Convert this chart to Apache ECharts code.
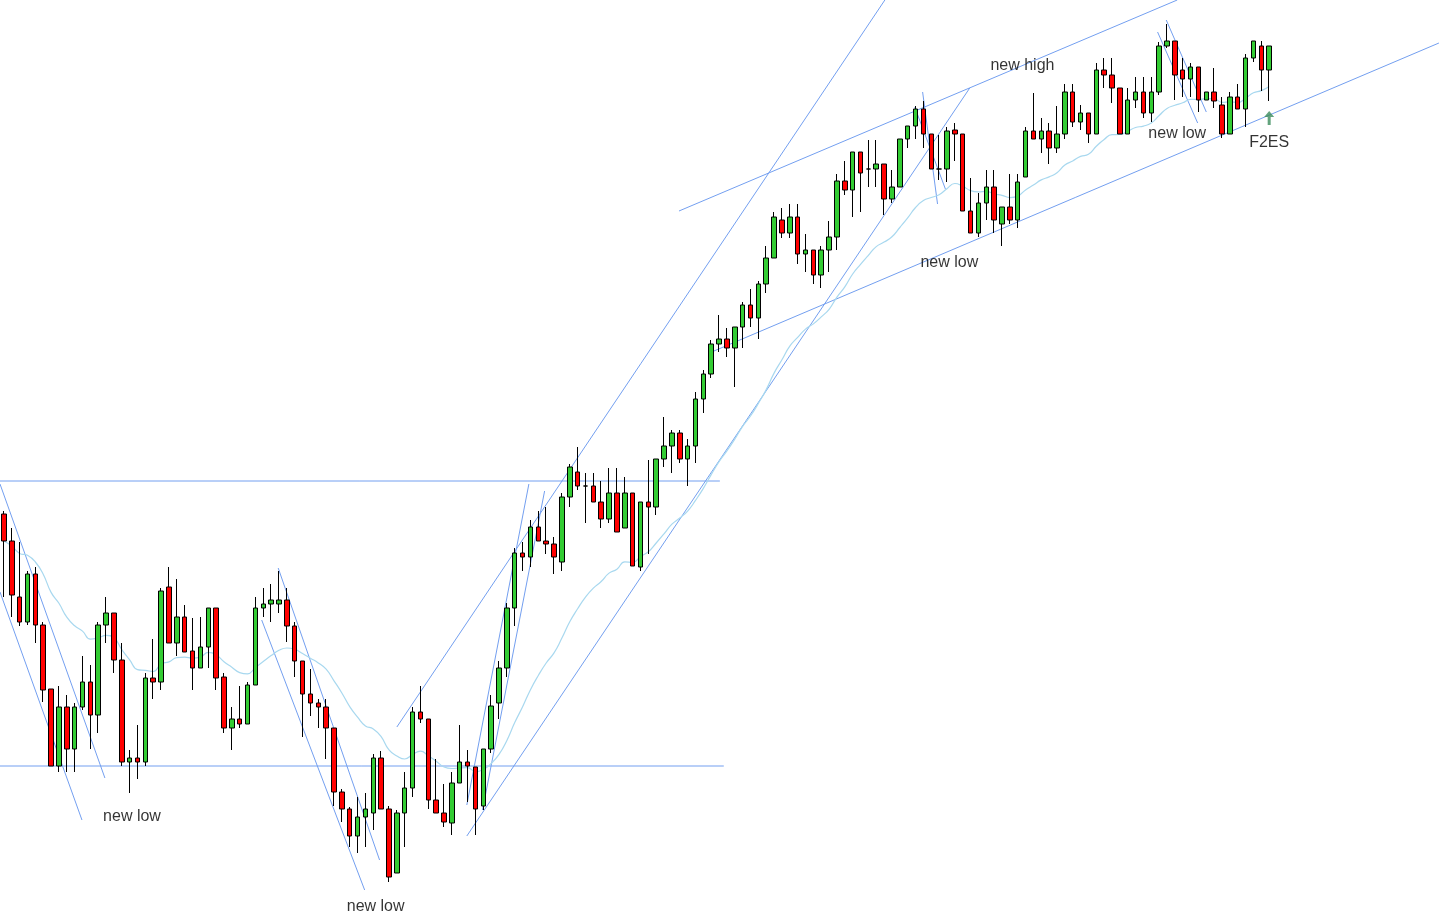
<!DOCTYPE html>
<html>
<head>
<meta charset="utf-8">
<script src="https://cdn.jsdelivr.net/npm/echarts@6/dist/echarts.min.js"></script>
<style>
html,body{margin:0;padding:0;background:#fff;}
#container{width:1446px;height:915px;}
</style>
</head>
<body>
<div id="container"></div>
<script>
// candles: [open, close, low, high]
var candles = [
[401,374,318,404],[374,320,298,387],[318,293,289,373],[293,341,290,344],[341,290,272,348],
[290,225,213,293],[226,149,149,226],[149,208,143,229],[208,166,143,220],[166,208,143,212],
[208,233,205,259],[233,200,166,250],[200,290,182,293],[290,302,272,318],[302,255,242,302],
[255,153,149,272],[153,157,122,165],[157,153,136,190],[153,237,149,242],[237,233,216,276],
[233,324,225,327],[328,272,272,348],[272,298,259,336],[298,263,263,310],[264,247,225,297],
[247,268,247,298],[268,307,247,307],[307,237,225,307],[238,187,182,242],[187,196,165,208],
[196,191,187,229],[191,230,191,233],[230,307,230,318],[307,311,298,327],[311,315,293,331],
[311,315,302,344],[315,289,273,327],[289,254,238,293],[254,221,178,254],[221,212,199,246],
[212,208,187,216],[208,187,156,216],[187,123,109,187],[123,106,93,126],[106,79,68,108],
[79,98,62,118],[98,106,68,122],[102,157,85,161],[157,106,106,164],[106,38,33,109],
[42,102,42,105],[102,127,68,143],[127,203,118,208],[203,196,192,229],[196,115,106,196],
[115,102,102,156],[102,93,88,131],[92,132,80,143],[132,153,132,190],[153,149,113,165],
[148,106,80,148],[109,166,105,166],[166,209,162,220],[212,247,196,254],[247,307,238,312],
[307,362,289,367],[362,358,344,373],[358,388,348,395],[388,374,374,404],[374,371,361,408],
[371,358,341,378],[353,418,344,422],[418,448,408,451],[443,429,425,468],[429,429,392,442],
[429,413,413,442],[413,396,387,434],[396,422,392,447],[422,383,383,447],[387,422,387,438],
[422,349,349,422],[348,413,344,413],[413,408,361,455],[408,456,400,456],[456,469,448,498],
[469,482,442,485],[482,456,452,485],[456,469,429,476],[469,516,452,523],[516,541,502,545],
[541,571,537,575],[571,576,563,600],[576,567,558,587],[567,588,528,588],[588,610,567,613],
[610,597,588,626],[597,631,576,634],[631,657,622,669],[657,698,657,703],[695,682,677,707],
[682,698,677,711],[698,661,651,711],[661,665,643,681],[665,640,631,665],[640,665,627,669],
[665,678,643,694],[678,734,665,741],[734,725,720,754],[725,763,698,763],[763,742,703,763],
[746,746,728,775],[746,751,728,775],[751,716,700,751],[716,728,712,745],[728,776,728,776],
[776,789,767,789],[789,806,776,809],[806,781,767,814],[781,746,746,781],[746,746,735,780],
[746,784,733,788],[785,781,754,792],[781,704,704,781],[704,682,682,737],[682,712,678,722],
[712,728,695,745],[728,695,682,745],[691,708,669,708],[708,695,691,741],[695,733,687,741],
[738,784,738,788],[784,776,776,822],[776,784,762,797],[784,767,751,792],[767,781,762,809],
[781,823,776,831],[823,793,788,831],[793,802,785,810],[802,781,772,802],[781,845,781,852],
[845,840,827,857],[840,827,812,857],[827,781,781,827],[781,815,781,827],[815,823,807,838],
[823,802,797,838],[802,823,793,838],[823,869,820,873],[869,874,867,891],[874,840,815,874],
[845,836,818,857],[836,848,818,852],[848,815,803,848],[815,823,815,823],[823,814,807,847],
[810,781,777,818],[781,818,781,823],[818,806,806,831],[806,857,788,861],[857,874,853,874],
[869,845,824,874],[845,869,814,869]
];
var slotCount = 184;

// trendlines: [[index, price], [index, price]]
var trendLines = [
    [[-0.5, 434], [91.1, 434]],
    [[-0.5, 149], [91.6, 149]],
    [[-0.5, 431], [12.85, 137]],
    [[-0.5, 323], [9.93, 95]],
    [[34.9, 347], [47.8, 55]],
    [[32.8, 295], [45.9, 25]],
    [[50.0, 188], [112.1, 915]],
    [[58.9, 110], [66.8, 431]],
    [[60.9, 105], [68.8, 424]],
    [[58.9, 79], [122.9, 827]],
    [[85.9, 704], [149.3, 915]],
    [[90.05, 563], [182.6, 872]],
    [[116.9, 823], [118.8, 711]],
    [[115.9, 808], [119.8, 726]],
    [[147.9, 895], [153.0, 803]],
    [[146.8, 883], [151.9, 792]]
];

// text notes: [label, index, price]
var notes = [
    ['new low', 16.3, 98],
    ['new low', 47.3, 8],
    ['new low', 120.3, 652],
    ['new low', 149.3, 781],
    ['new high', 129.6, 849],
    ['F2ES', 161, 772]
];

var cats = [];
for (var i = 0; i < slotCount; i++) cats.push(i);

// 20-period exponential average of closes
var ma = [];
var k = 2 / (20 + 1), prev = candles[0][1];
for (var i = 0; i < candles.length; i++) {
    prev = i == 0 ? candles[i][1] : candles[i][1] * k + prev * (1 - k);
    ma.push(+prev.toFixed(1));
}

var series = [{
    type: 'candlestick',
    data: candles,
    barWidth: 5,
    itemStyle: {
        color: '#33cc33', color0: '#ff0000',
        borderColor: '#000', borderColor0: '#000', borderWidth: 1
    },
    z: 3
}, {
    type: 'line',
    data: ma,
    symbol: 'none',
    smooth: true,
    lineStyle: { color: '#a8d8ef', width: 1.2 },
    z: 2
}];

for (var j = 0; j < trendLines.length; j++) {
    series.push({
        type: 'line',
        xAxisIndex: 1,
        yAxisIndex: 1,
        data: trendLines[j],
        symbol: 'none',
        lineStyle: { color: '#739ff0', width: 1 },
        z: 1
    });
}

series.push({
    type: 'scatter',
    xAxisIndex: 1,
    yAxisIndex: 1,
    data: notes.map(function (n) { return { value: [n[1], n[2]], name: n[0] }; }),
    symbolSize: 0,
    label: {
        show: true, position: 'inside', formatter: '{b}',
        color: '#000', fontSize: 16, fontFamily: 'Liberation Sans, Arial'
    },
    z: 4
});

series.push({
    type: 'scatter',
    xAxisIndex: 1,
    yAxisIndex: 1,
    data: [[161, 797]],
    symbol: 'path://M5,0 L10,6 L6.5,6 L6.5,14 L3.5,14 L3.5,6 L0,6 Z',
    symbolSize: [10, 14],
    itemStyle: { color: '#3c8c5c' },
    z: 4
});

var myChart = echarts.init(document.getElementById('container'));
var option = {
    animation: false,
    backgroundColor: '#fff',
    grid: { left: 0, right: 0, top: 0, bottom: 0 },
    xAxis: [{
        type: 'category', data: cats, boundaryGap: true, show: false
    }, {
        type: 'value', min: -0.5, max: slotCount - 0.5, show: false
    }],
    yAxis: [{
        type: 'value', min: 0, max: 915, show: false
    }, {
        type: 'value', min: 0, max: 915, show: false
    }],
    series: series
};
myChart.setOption(option, true);
</script>
</body>
</html>
